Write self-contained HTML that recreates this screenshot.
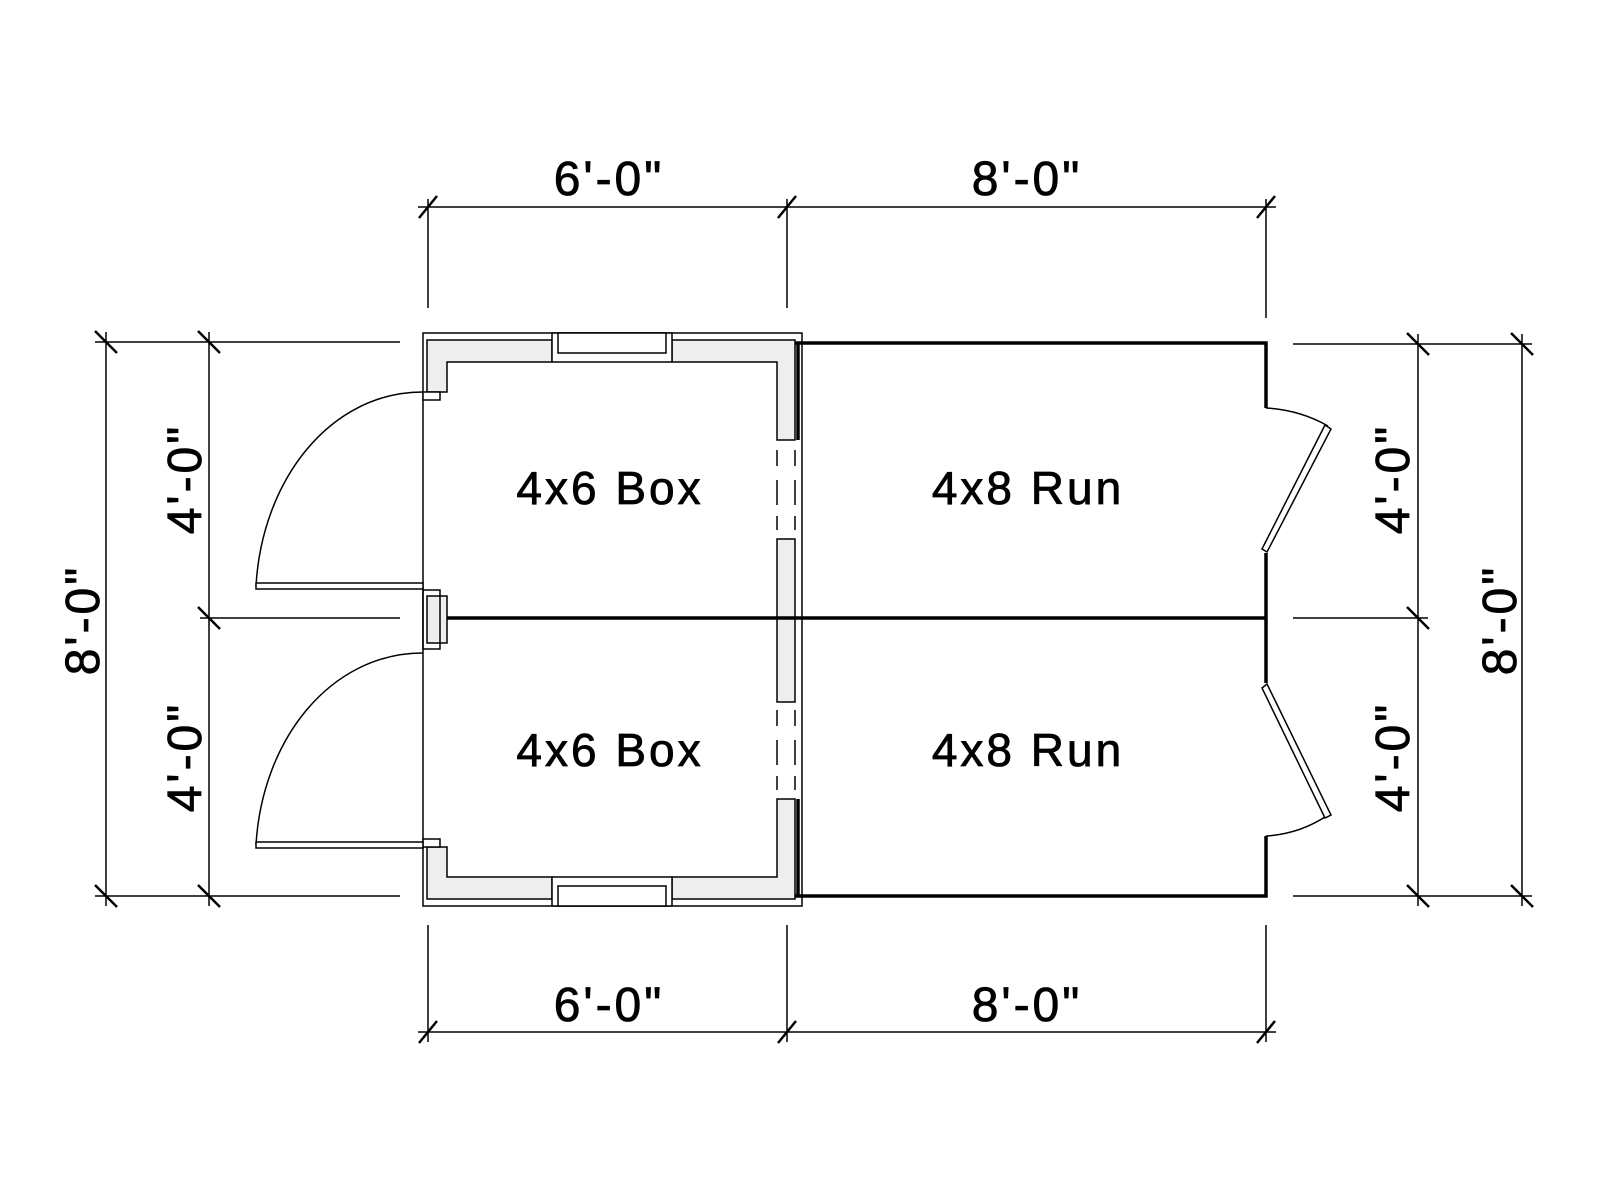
<!DOCTYPE html>
<html><head><meta charset="utf-8"><style>
html,body{margin:0;padding:0;background:#fff;width:1600px;height:1200px;overflow:hidden}
text{font-family:"Liberation Sans",sans-serif;font-size:46px;fill:#000;stroke:#000;stroke-width:0.8}
text.lbl{font-size:48px;letter-spacing:3px}
</style></head><body>
<svg width="1600" height="1200" viewBox="0 0 1600 1200" xmlns="http://www.w3.org/2000/svg">
<g stroke="#000" fill="none" stroke-width="1.5">
<line x1="418" y1="207" x2="1276" y2="207"/>
<line x1="428" y1="199" x2="428" y2="308"/>
<line x1="787" y1="199" x2="787" y2="308"/>
<line x1="1266" y1="199" x2="1266" y2="318"/>
<line x1="419" y1="218" x2="437" y2="196" stroke-width="2.5"/>
<line x1="778" y1="218" x2="796" y2="196" stroke-width="2.5"/>
<line x1="1257" y1="218" x2="1275" y2="196" stroke-width="2.5"/>
<line x1="418" y1="1032" x2="1276" y2="1032"/>
<line x1="428" y1="925" x2="428" y2="1042"/>
<line x1="787" y1="925" x2="787" y2="1042"/>
<line x1="1266" y1="925" x2="1266" y2="1042"/>
<line x1="419" y1="1043" x2="437" y2="1021" stroke-width="2.5"/>
<line x1="778" y1="1043" x2="796" y2="1021" stroke-width="2.5"/>
<line x1="1257" y1="1043" x2="1275" y2="1021" stroke-width="2.5"/>
<line x1="95" y1="342" x2="400" y2="342"/>
<line x1="200" y1="618" x2="400" y2="618"/>
<line x1="95" y1="896" x2="400" y2="896"/>
<line x1="106" y1="332" x2="106" y2="906"/>
<line x1="209" y1="332" x2="209" y2="906"/>
<line x1="95" y1="331" x2="117" y2="353" stroke-width="2.5"/>
<line x1="198" y1="331" x2="220" y2="353" stroke-width="2.5"/>
<line x1="198" y1="607" x2="220" y2="629" stroke-width="2.5"/>
<line x1="95" y1="885" x2="117" y2="907" stroke-width="2.5"/>
<line x1="198" y1="885" x2="220" y2="907" stroke-width="2.5"/>
<line x1="1293" y1="344" x2="1532" y2="344"/>
<line x1="1293" y1="618" x2="1428" y2="618"/>
<line x1="1293" y1="896" x2="1532" y2="896"/>
<line x1="1418" y1="334" x2="1418" y2="906"/>
<line x1="1522" y1="334" x2="1522" y2="906"/>
<line x1="1407" y1="333" x2="1429" y2="355" stroke-width="2.5"/>
<line x1="1511" y1="333" x2="1533" y2="355" stroke-width="2.5"/>
<line x1="1407" y1="607" x2="1429" y2="629" stroke-width="2.5"/>
<line x1="1407" y1="885" x2="1429" y2="907" stroke-width="2.5"/>
<line x1="1511" y1="885" x2="1533" y2="907" stroke-width="2.5"/>
</g>
<g stroke="#000" stroke-width="1.5">
<rect x="423" y="333" width="379" height="573" fill="none"/>
<path d="M427 340 H552 V362 H447 V392 H427 Z" fill="#eee"/>
<path d="M672 340 H795 V440 H777 V362 H672 Z" fill="#eee"/>
<path d="M427 899 H552 V877 H447 V847 H427 Z" fill="#eee"/>
<path d="M672 899 H795 V799 H777 V877 H672 Z" fill="#eee"/>
<rect x="427" y="596" width="20" height="47" fill="#eee"/>
<rect x="423" y="590" width="17" height="59" fill="none"/>
<rect x="777" y="539" width="18" height="163" fill="#eee"/>
<rect x="552" y="333" width="120" height="29" fill="#fff"/>
<rect x="558" y="333" width="108" height="20" fill="#fff"/>
<rect x="552" y="877" width="120" height="29" fill="#fff"/>
<rect x="558" y="886" width="108" height="20" fill="#fff"/>
<rect x="423" y="392" width="17" height="8" fill="#fff"/>
<rect x="423" y="839" width="17" height="8" fill="#fff"/>
</g>
<g stroke="#000" fill="none" stroke-width="1.5">
<line x1="777" y1="450" x2="777" y2="466"/><line x1="795" y1="450" x2="795" y2="466"/>
<line x1="777" y1="480" x2="777" y2="505"/><line x1="795" y1="480" x2="795" y2="505"/>
<line x1="777" y1="516" x2="777" y2="530"/><line x1="795" y1="516" x2="795" y2="530"/>
<line x1="777" y1="710" x2="777" y2="726"/><line x1="795" y1="710" x2="795" y2="726"/>
<line x1="777" y1="740" x2="777" y2="765"/><line x1="795" y1="740" x2="795" y2="765"/>
<line x1="777" y1="776" x2="777" y2="790"/><line x1="795" y1="776" x2="795" y2="790"/>
</g>
<line x1="447" y1="618" x2="1266" y2="618" stroke="#000" stroke-width="3.5"/>
<g stroke="#000" fill="none" stroke-width="3.5">
<path d="M795 343 H1266 V408"/>
<path d="M795 896 H1266 V836"/>
<line x1="1266" y1="553" x2="1266" y2="683"/>
<line x1="798" y1="343" x2="798" y2="440"/>
<line x1="798" y1="799" x2="798" y2="896"/>
</g>
<g stroke="#000" fill="none" stroke-width="1.5">
<path d="M1266 408 Q1300 410 1328 426"/>
<path d="M1266 836 Q1300 834 1328 815"/>
<polygon points="1262,549 1267,552 1331,429 1325,425" fill="#fff"/>
<polygon points="1262,688 1267,684 1331,815 1325,818" fill="#fff"/>
<path d="M423 392 C330 392 262 480 256 586"/>
<rect x="256" y="583" width="167" height="6" fill="#fff"/>
<path d="M423 653 C330 653 262 740 256 845"/>
<rect x="256" y="842" width="167" height="6" fill="#fff"/>
</g>
<g text-anchor="middle">
<text class="lbl" x="609" y="195">6'-0"</text>
<text class="lbl" x="1027" y="195">8'-0"</text>
<text class="lbl" x="609" y="1021">6'-0"</text>
<text class="lbl" x="1027" y="1021">8'-0"</text>
<text x="610" y="504" style="letter-spacing:3px">4x6 Box</text>
<text x="610" y="766" style="letter-spacing:3px">4x6 Box</text>
<text x="1028" y="504" style="letter-spacing:3px">4x8 Run</text>
<text x="1028" y="766" style="letter-spacing:3px">4x8 Run</text>
<text class="lbl" transform="translate(99,620) rotate(-90)">8'-0"</text>
<text class="lbl" transform="translate(201,479) rotate(-90)">4'-0"</text>
<text class="lbl" transform="translate(201,757) rotate(-90)">4'-0"</text>
<text class="lbl" transform="translate(1409,479) rotate(-90)">4'-0"</text>
<text class="lbl" transform="translate(1409,757) rotate(-90)">4'-0"</text>
<text class="lbl" transform="translate(1516,620) rotate(-90)">8'-0"</text>
</g>
</svg>
</body></html>
